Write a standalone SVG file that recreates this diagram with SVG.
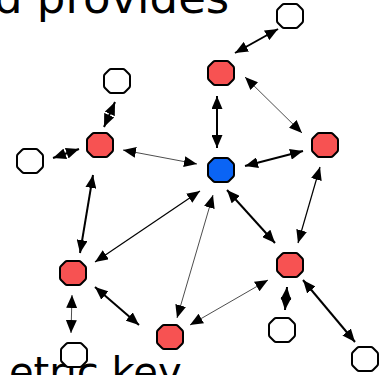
<svg xmlns="http://www.w3.org/2000/svg" width="390" height="375" viewBox="0 0 390 375">
<style>
.t{font-family:"DejaVu Sans",Verdana,sans-serif;fill:#000}
.n{stroke:#000;stroke-width:2;stroke-linejoin:round}
.red{fill:#f75252}
.blue{fill:#0a64f5}
.white{fill:#fff}
.e{stroke:#000;fill:none;marker-start:url(#ah);marker-end:url(#ah)}
.k{stroke-width:2}
.m{stroke-width:1.2}
.s{stroke-width:0.7}
</style>
<defs>
<marker id="ah" markerUnits="userSpaceOnUse" markerWidth="13" markerHeight="11" refX="13" refY="5.5" orient="auto-start-reverse" viewBox="0 0 13 11">
<path d="M0,0 L13,5.5 L0,11 z" fill="#000"/>
</marker>
<path id="oct" d="M-6,-12 L6,-12 Q7,-12 8,-11 L12,-7 Q13,-6 13,-5 L13,5 Q13,6 12,7 L8,11 Q7,12 6,12 L-6,12 Q-7,12 -8,11 L-12,7 Q-13,6 -13,5 L-13,-5 Q-13,-6 -12,-7 L-8,-11 Q-7,-12 -6,-12 Z"/>
</defs>
<text class="t" x="-6" y="13" font-size="45">d provides</text>
<text class="t" x="9" y="386" font-size="40">etric key</text>
<g id="connectors">
<line class="e k" x1="235" y1="53" x2="278" y2="29"/>
<line class="e k" x1="217" y1="96" x2="217" y2="148"/>
<line class="e s" x1="245" y1="77" x2="302" y2="133"/>
<line class="e k" x1="303" y1="151" x2="245" y2="166"/>
<line class="e s" x1="123" y1="150" x2="197" y2="164"/>
<line class="e k" x1="115" y1="102" x2="104" y2="127"/>
<line class="e k" x1="53" y1="158" x2="79" y2="149"/>
<line class="e k" x1="93" y1="175" x2="80" y2="253"/>
<line class="e m" x1="95" y1="262" x2="200" y2="191"/>
<line class="e s" x1="177" y1="318" x2="213" y2="195"/>
<line class="e k" x1="95" y1="287" x2="139" y2="325"/>
<line class="e s" x1="72" y1="295" x2="71" y2="333"/>
<line class="e k" x1="227" y1="190" x2="275" y2="243"/>
<line class="e m" x1="320" y1="167" x2="298" y2="243"/>
<line class="e s" x1="190" y1="325" x2="268" y2="280"/>
<line class="e k" x1="287" y1="287" x2="285" y2="310"/>
<line class="e k" x1="303" y1="280" x2="355" y2="342"/>
</g>
<g id="n-center"><use href="#oct" class="n blue" x="221" y="170"/></g>
<g id="n-top"><use href="#oct" class="n red" x="221" y="73"/></g>
<g id="n-right"><use href="#oct" class="n red" x="325" y="145"/></g>
<g id="n-lefttop"><use href="#oct" class="n red" x="100" y="145"/></g>
<g id="n-leftbottom"><use href="#oct" class="n red" x="73" y="273"/></g>
<g id="n-bottom"><use href="#oct" class="n red" x="170" y="337"/></g>
<g id="n-rightbottom"><use href="#oct" class="n red" x="290" y="265"/></g>
<g id="w-topright"><use href="#oct" class="n white" x="290" y="16"/></g>
<g id="w-lefttop"><use href="#oct" class="n white" x="117" y="81"/></g>
<g id="w-left"><use href="#oct" class="n white" x="30" y="161"/></g>
<g id="w-bottomleft"><use href="#oct" class="n white" x="74" y="355"/></g>
<g id="w-bottomright1"><use href="#oct" class="n white" x="282" y="330"/></g>
<g id="w-bottomright2"><use href="#oct" class="n white" x="365" y="359"/></g>
</svg>
